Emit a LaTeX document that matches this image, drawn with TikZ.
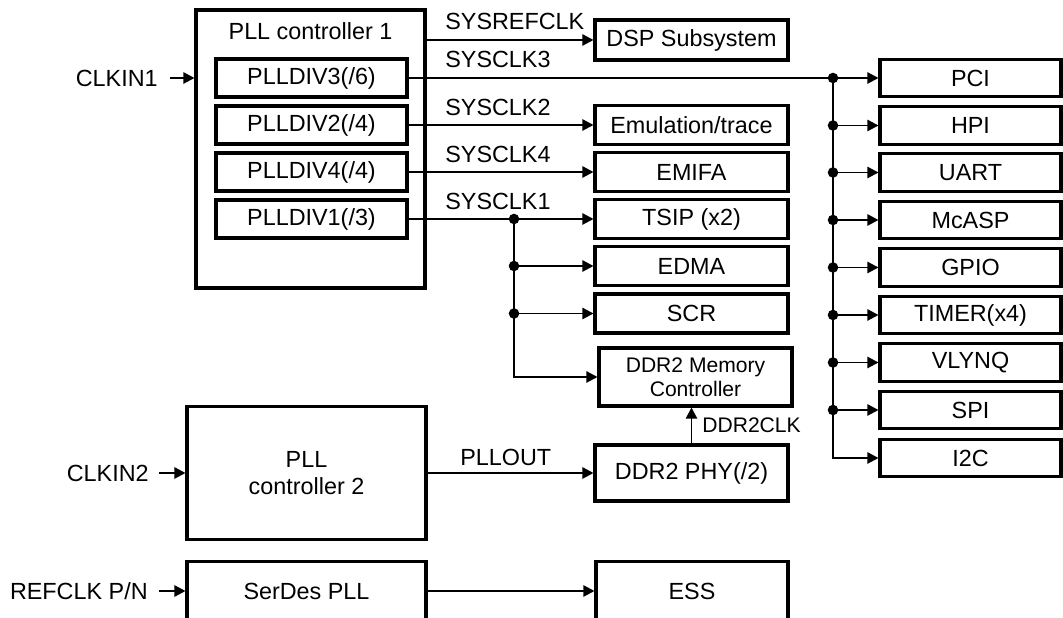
\documentclass[tikz,border=0pt]{standalone}
\usepackage{fontspec}
\setmainfont{Liberation Sans}
\usetikzlibrary{arrows.meta}

\tikzset{
  blk/.style={draw, line width=1.8pt, inner sep=0pt, align=center,
    font=\fontsize{13.3}{15.3}\selectfont},
  txt/.style={inner sep=0pt, font=\fontsize{13.3}{15.3}\selectfont},
  smalltxt/.style={inner sep=0pt, font=\fontsize{12}{13.6}\selectfont},
  wire/.style={line width=0.75pt},
  sig/.style={wire, -{Triangle[length=6.3pt,width=6.5pt]}},
  dot/.style={circle, fill, inner sep=0pt, minimum size=6pt},
  divbox/.style={blk, minimum width=3.82cm, minimum height=0.76cm},
  midbox/.style={blk, minimum width=3.86cm, minimum height=0.78cm},
  perbox/.style={blk, minimum width=3.62cm, minimum height=0.75cm},
}

\begin{document}
\begin{tikzpicture}[x=0.02cm, y=-0.02cm]
    \useasboundingbox (0,0) rectangle (1063,618);

    \node[blk, minimum width=4.58cm, minimum height=5.56cm] (pll1) at (310.5,149) {};
    \node[txt, anchor=base] (pll1name) at (310.5,40) {PLL controller 1};
    \node[divbox] (div3) at (311.5,78) {PLLDIV3(/6)};
    \node[divbox] (div2) at (311.5,125) {PLLDIV2(/4)};
    \node[divbox] (div4) at (311.5,172) {PLLDIV4(/4)};
    \node[divbox] (div1) at (311.5,219) {PLLDIV1(/3)};

    \node[blk, minimum width=4.78cm, minimum height=2.66cm] (pll2) at (306.5,473) {PLL\\controller 2};
    \node[blk, minimum width=4.78cm, minimum height=1.18cm] (serdes) at (306.5,591) {SerDes PLL};

    \node[txt, anchor=east] (clkin1) at (158,78) {CLKIN1};
    \node[txt, anchor=east] (clkin2) at (149,473) {CLKIN2};
    \node[txt, anchor=east] (refclk) at (148,591) {REFCLK P/N};

    \node[midbox, minimum height=0.8cm] (dsp) at (691.5,40) {DSP Subsystem};
    \node[midbox] (emu) at (691.5,125) {Emulation/trace};
    \node[midbox] (emifa) at (691.5,172) {EMIFA};
    \node[midbox] (tsip) at (691.5,219) {TSIP (x2)};
    \node[midbox] (edma) at (691.5,266) {EDMA};
    \node[midbox] (scr) at (691.5,313.5) {SCR};
    \node[blk, smalltxt, minimum width=3.86cm, minimum height=1.16cm] (ddrmc) at (695.5,377) {DDR2 Memory\\Controller};
    \node[midbox, minimum height=1.12cm] (phy) at (691.5,473) {DDR2 PHY(/2)};
    \node[blk, minimum width=3.84cm, minimum height=1.18cm] (ess) at (692,591) {ESS};

    \node[perbox] (pci) at (970.5,78) {PCI};
    \node[perbox] (hpi) at (970.5,125.5) {HPI};
    \node[perbox] (uart) at (970.5,172.5) {UART};
    \node[perbox] (mcasp) at (970.5,220) {McASP};
    \node[perbox] (gpio) at (970.5,267.5) {GPIO};
    \node[perbox] (timer) at (970.5,315) {TIMER(x4)};
    \node[perbox] (vlynq) at (970.5,362.5) {VLYNQ};
    \node[perbox] (spi) at (970.5,410) {SPI};
    \node[perbox] (i2c) at (970.5,458) {I2C};

    \node[txt, anchor=base west] (lsysref) at (445,30) {SYSREFCLK};
    \node[txt, anchor=base west] (lsys3) at (445,68) {SYSCLK3};
    \node[txt, anchor=base west] (lsys2) at (445,116) {SYSCLK2};
    \node[txt, anchor=base west] (lsys4) at (445,163) {SYSCLK4};
    \node[txt, anchor=base west] (lsys1) at (445,210) {SYSCLK1};
    \node[txt, anchor=base west] (lpllout) at (460,466) {PLLOUT};
    \node[smalltxt, anchor=base west] (lddrclk) at (702,433) {DDR2CLK};

    \draw[sig] ([xshift=0.24cm]clkin1.east) -- (clkin1 -| pll1.west);
    \draw[sig] ([xshift=0.2cm]clkin2.east) -- (clkin2 -| pll2.west);
    \draw[sig] ([xshift=0.22cm]refclk.east) -- (refclk -| serdes.west);

    \draw[sig] (pll1.east |- dsp.west) -- (dsp.west);
    \draw[sig] (div2.east) -- (emu.west);
    \draw[sig] (div4.east) -- (emifa.west);

    \node[dot] (j1tsip) at (514,219) {};
    \node[dot] (j1edma) at (j1tsip |- edma) {};
    \node[dot] (j1scr) at (j1tsip |- scr) {};
    \draw[sig] (div1.east) -- (tsip.west);
    \draw[sig] (j1edma.center) -- (edma.west);
    \draw[sig] (j1scr.center) -- (scr.west);
    \draw[sig] (j1tsip.center) |- (ddrmc.west);

    \node[dot] (j3pci) at (833,78) {};
    \node[dot] (j3hpi) at (j3pci |- hpi) {};
    \node[dot] (j3uart) at (j3pci |- uart) {};
    \node[dot] (j3mcasp) at (j3pci |- mcasp) {};
    \node[dot] (j3gpio) at (j3pci |- gpio) {};
    \node[dot] (j3timer) at (j3pci |- timer) {};
    \node[dot] (j3vlynq) at (j3pci |- vlynq) {};
    \node[dot] (j3spi) at (j3pci |- spi) {};
    \draw[sig] (div3.east) -- (pci.west);
    \draw[sig] (j3pci.center) |- (i2c.west);
    \draw[sig] (j3hpi.center) -- (hpi.west);
    \draw[sig] (j3uart.center) -- (uart.west);
    \draw[sig] (j3mcasp.center) -- (mcasp.west);
    \draw[sig] (j3gpio.center) -- (gpio.west);
    \draw[sig] (j3timer.center) -- (timer.west);
    \draw[sig] (j3vlynq.center) -- (vlynq.west);
    \draw[sig] (j3spi.center) -- (spi.west);

    \draw[sig] (pll2.east) -- (phy.west);
    \draw[sig] (phy.north) -- (phy.north |- ddrmc.south);
    \draw[sig] (serdes.east) -- (ess.west);
\end{tikzpicture}
\end{document}
